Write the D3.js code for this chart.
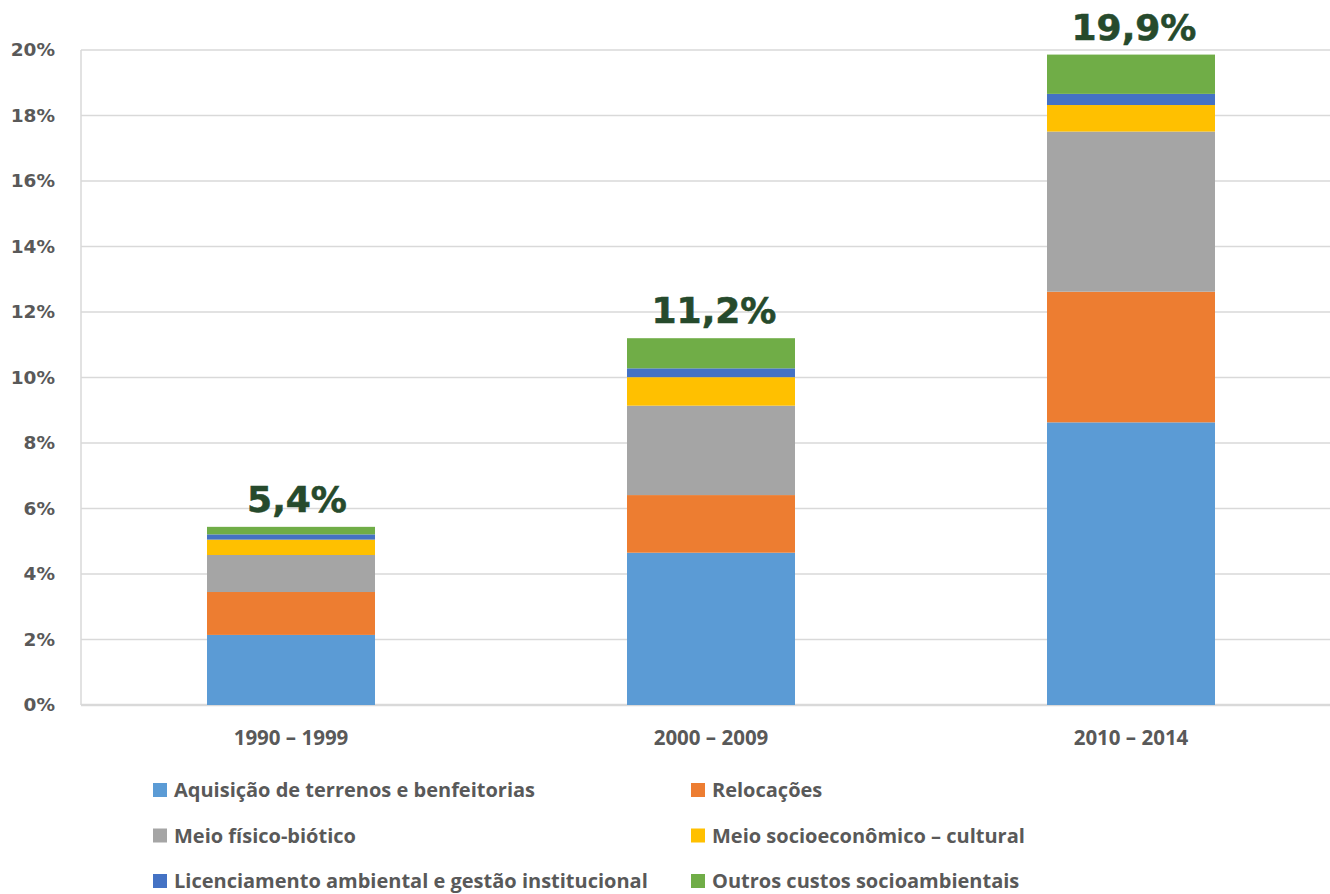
<!DOCTYPE html>
<html><head><meta charset="utf-8">
<script src="https://cdn.jsdelivr.net/npm/d3@7"></script>
<style>body{margin:0;background:#fff}svg{display:block}</style>
</head><body>
<svg id="c" width="1330" height="894"></svg>
<script>
const categories = ["1990 – 1999", "2000 – 2009", "2010 – 2014"];
const seriesNames = ["Aquisição de terrenos e benfeitorias", "Relocações", "Meio físico-biótico", "Meio socioeconômico – cultural", "Licenciamento ambiental e gestão institucional", "Outros custos socioambientais"];
const seriesColors = ["#5B9BD5", "#ED7D31", "#A5A5A5", "#FFC000", "#4472C4", "#70AD47"];
const aquisicao = [2.14, 4.65, 8.63];
const relocacoes = [1.31, 1.76, 3.99];
const meioFisico = [1.13, 2.73, 4.89];
const meioSocio = [0.47, 0.87, 0.81];
const licenciamento = [0.16, 0.27, 0.34];
const outros = [0.23, 0.92, 1.20];
const totalLabels = ["5,4%", "11,2%", "19,9%"];
const yTicks = [0, 2, 4, 6, 8, 10, 12, 14, 16, 18, 20];

const series = [aquisicao, relocacoes, meioFisico, meioSocio, licenciamento, outros];
const svg = d3.select("#c");
const pLeft = 81, pRight = 1341, pTop = 50, pBottom = 705;
const x = d3.scaleBand().domain(categories).range([pLeft, pRight]).paddingInner(0.6).paddingOuter(0.3);
const y = d3.scaleLinear().domain([0, 20]).range([pBottom, pTop]);

// gridlines
svg.append("g").selectAll("line").data(yTicks).join("line")
  .attr("x1", pLeft).attr("x2", 1330)
  .attr("y1", d => y(d)).attr("y2", d => y(d))
  .attr("stroke", "#d9d9d9").attr("stroke-width", d => d === 0 ? 2.5 : 1.5);
svg.append("line").attr("x1", pLeft).attr("x2", pLeft).attr("y1", pTop).attr("y2", pBottom)
  .attr("stroke", "#d9d9d9").attr("stroke-width", 1.5);

// y axis labels
const yAxis = d3.axisLeft(y).tickValues(yTicks).tickFormat(d => d + "%").tickSize(0).tickPadding(26);
const ga = svg.append("g").attr("transform", `translate(${pLeft},0)`).call(yAxis);
ga.select(".domain").remove();
ga.selectAll("text").attr("font-family", "DejaVu Sans").attr("font-weight", "bold")
  .attr("font-size", 18.5).attr("fill", "#595959");

// stacked bars
const rows = categories.map((c, i) => { const o = {cat: c}; series.forEach((s, j) => o["s" + j] = s[i]); return o; });
const stack = d3.stack().keys(series.map((s, j) => "s" + j))(rows);
svg.append("g").selectAll("g").data(stack).join("g")
  .attr("fill", (d, j) => seriesColors[j])
  .selectAll("rect").data(d => d).join("rect")
  .attr("x", d => x(d.data.cat)).attr("width", x.bandwidth())
  .attr("y", d => y(d[1])).attr("height", d => y(d[0]) - y(d[1]));

// total labels
const totals = categories.map((c, i) => series.reduce((a, s) => a + s[i], 0));
svg.append("g").selectAll("text").data(categories).join("text")
  .attr("x", (d, i) => x(d) + x.bandwidth() / 2 + (i === 0 ? 6 : 3))
  .attr("y", (d, i) => y(totals[i]) - 15)
  .attr("text-anchor", "middle").attr("font-family", "DejaVu Sans").attr("font-weight", "bold")
  .attr("font-size", 36).attr("fill", "#264A2C").attr("stroke", "#264A2C").attr("stroke-width", 0.6)
  .text((d, i) => totalLabels[i]);

// category labels
svg.append("g").selectAll("text").data(categories).join("text")
  .attr("x", d => x(d) + x.bandwidth() / 2).attr("y", 745)
  .attr("text-anchor", "middle").attr("font-family", "Open Sans").attr("font-weight", "bold")
  .attr("font-size", 20.5).attr("fill", "#595959").text(d => d);

// legend
const lg = svg.append("g");
seriesNames.forEach((n, j) => {
  const col = j % 2, row = Math.floor(j / 2);
  const lx = col === 0 ? 153 : 691, ly = 790 + row * 45.5;
  lg.append("rect").attr("x", lx).attr("y", ly - 7).attr("width", 14).attr("height", 14).attr("fill", seriesColors[j]);
  lg.append("text").attr("x", lx + 21).attr("y", ly + 7).attr("font-family", "Open Sans").attr("font-weight", "bold")
    .attr("font-size", 20).attr("fill", "#595959").text(n);
});
</script>
</body></html>
